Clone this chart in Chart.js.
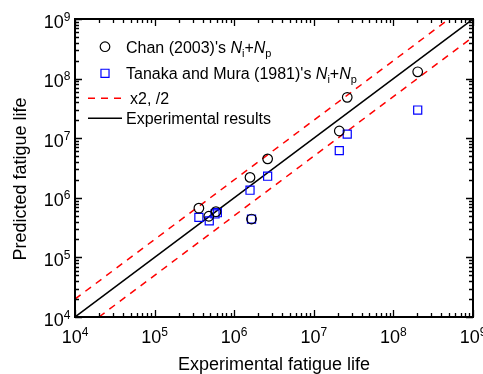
<!DOCTYPE html>
<html>
<head>
<meta charset="utf-8">
<style>
  html, body { margin: 0; padding: 0; background: #fff; }
  #wrap { width: 483px; height: 374px; }
</style>
</head>
<body>
<div id="wrap">
  <canvas id="fatigue" width="483" height="374"></canvas>
</div>

<script src="https://cdn.jsdelivr.net/npm/chart.js"></script>

<script>
  // data (cycles)
  const chanX = [3.6e5, 4.8e5, 5.9e5, 1.58e6, 1.65e6, 2.63e6, 2.09e7, 2.63e7, 2.02e8];
  const chanY = [6.7e5, 4.9e5, 5.85e5, 2.2e6, 4.4e5, 4.5e6, 1.32e7, 4.85e7, 1.3e8];
  const tanakaX = [3.6e5, 4.86e5, 5.74e5, 6.14e5, 1.58e6, 1.65e6, 2.63e6, 2.09e7, 2.63e7, 2.02e8];
  const tanakaY = [4.7e5, 4.1e5, 5.35e5, 5.62e5, 1.34e6, 4.4e5, 2.3e6, 6.2e6, 1.17e7, 2.97e7];

  // reference lines: y = x, y = 2x, y = x/2
  const expX = [1e4, 1e9];
  const expY = [1e4, 1e9];
  const upperX = [1e4, 5e8];
  const upperY = [2e4, 1e9];
  const lowerX = [2e4, 1e9];
  const lowerY = [1e4, 5e8];

  const decades = [1e4, 1e5, 1e6, 1e7, 1e8, 1e9];
  const exponents = ['4', '5', '6', '7', '8', '9'];

  const xTitle = 'Experimental fatigue life';
  const yTitle = 'Predicted fatigue life';

  // legend text, split in pieces for italic / subscript
  const chanLabel = [["Chan (2003)'s ", ''], ['N', 'it'], ['i', 'sub'], ['+', ''], ['N', 'it'], ['p', 'sub']];
  const tanakaLabel = [["Tanaka and Mura (1981)'s ", ''], ['N', 'it'], ['i', 'sub'], ['+', ''], ['N', 'it'], ['p', 'sub']];
  const boundLabel = [['x2, /2', '']];
  const expLabel = [['Experimental results', '']];

  const FONT = '"Liberation Sans", Arial, sans-serif';

  function pts(xs, ys) {
    return xs.map((x, i) => ({ x: x, y: ys[i] }));
  }

  function richText(ctx, segs, x, y) {
    segs.forEach(([t, st]) => {
      const size = st === 'sub' ? 11 : 16;
      ctx.font = (st === 'it' ? 'italic ' : '') + size + 'px ' + FONT;
      ctx.fillText(t, x, st === 'sub' ? y + 4 : y);
      x += ctx.measureText(t).width;
    });
  }

  const axesPlugin = {
    id: 'axesPlugin',
    afterDatasetsDraw(chart) {
      const ctx = chart.ctx;
      const xs = chart.scales.x, ys = chart.scales.y;
      const a = chart.chartArea;
      ctx.save();
      ctx.strokeStyle = '#000';
      ctx.fillStyle = '#000';

      // ticks pointing inward on all four sides
      const minors = [];
      decades.slice(0, -1).forEach(d => { for (let m = 2; m <= 9; m++) minors.push(m * d); });
      ctx.lineWidth = 1.3;
      ctx.beginPath();
      const tick = (v, len) => {
        const px = Math.round(xs.getPixelForValue(v)) + 0.5;
        const py = Math.round(ys.getPixelForValue(v)) + 0.5;
        ctx.moveTo(px, a.bottom); ctx.lineTo(px, a.bottom - len);
        ctx.moveTo(px, a.top); ctx.lineTo(px, a.top + len);
        ctx.moveTo(a.left, py); ctx.lineTo(a.left + len, py);
        ctx.moveTo(a.right, py); ctx.lineTo(a.right - len, py);
      };
      decades.forEach(v => tick(v, 7));
      minors.forEach(v => tick(v, 4));
      ctx.stroke();

      // frame
      ctx.lineWidth = 2;
      ctx.strokeRect(a.left, a.top, a.right - a.left, a.bottom - a.top);

      // tick labels 10^n
      decades.forEach((v, i) => {
        ctx.font = '18px ' + FONT;
        const wBase = ctx.measureText('10').width;
        ctx.font = '12px ' + FONT;
        const wSup = ctx.measureText(exponents[i]).width;
        const w = wBase + wSup;
        // x axis
        let px = xs.getPixelForValue(v) - w / 2;
        let base = 342.5;
        ctx.textAlign = 'left';
        ctx.textBaseline = 'alphabetic';
        ctx.font = '18px ' + FONT;
        ctx.fillText('10', px, base);
        ctx.font = '12px ' + FONT;
        ctx.fillText(exponents[i], px + wBase, base - 7);
        // y axis
        px = 70.5 - w;
        base = ys.getPixelForValue(v) + 8.5;
        ctx.font = '18px ' + FONT;
        ctx.fillText('10', px, base);
        ctx.font = '12px ' + FONT;
        ctx.fillText(exponents[i], px + wBase, base - 7);
      });

      // axis titles
      ctx.font = '18px ' + FONT;
      ctx.textAlign = 'center';
      ctx.fillText(xTitle, (a.left + a.right) / 2, 370);
      ctx.save();
      ctx.translate(25.5, 179);
      ctx.rotate(-Math.PI / 2);
      ctx.fillText(yTitle, 0, 0);
      ctx.restore();

      // legend
      ctx.textAlign = 'left';
      const ds = chart.data.datasets;
      const rows = [
        { y: 46.7, tx: 126, segs: chanLabel, ds: ds[0] },
        { y: 73.3, tx: 126, segs: tanakaLabel, ds: ds[1] },
        { y: 98.3, tx: 130, segs: boundLabel, ds: ds[3] },
        { y: 118.3, tx: 126, segs: expLabel, ds: ds[2] }
      ];
      rows.forEach(r => {
        const d = r.ds;
        ctx.save();
        ctx.strokeStyle = d.borderColor;
        ctx.fillStyle = 'rgba(0,0,0,0)';
        ctx.lineWidth = d.borderWidth;
        if (d.showLine) {
          ctx.setLineDash(d.borderDash || []);
          ctx.beginPath();
          ctx.moveTo(88, r.y);
          ctx.lineTo(122, r.y);
          ctx.stroke();
        } else {
          Chart.helpers.drawPoint(ctx, { pointStyle: d.pointStyle, radius: d.pointRadius, borderWidth: d.borderWidth, rotation: 0 }, 105, r.y);
        }
        ctx.restore();
        ctx.fillStyle = '#000';
        richText(ctx, r.segs, r.tx, r.y + 6);
      });

      ctx.restore();
    }
  };

  const ctx = document.getElementById('fatigue');

  new Chart(ctx, {
    type: 'scatter',
    data: {
      datasets: [
        {
          label: "Chan (2003)'s Ni+Np",
          data: pts(chanX, chanY),
          pointStyle: 'circle',
          pointRadius: 4.8,
          borderColor: '#000',
          backgroundColor: 'rgba(0,0,0,0)',
          borderWidth: 1.2
        },
        {
          label: "Tanaka and Mura (1981)'s Ni+Np",
          data: pts(tanakaX, tanakaY),
          pointStyle: 'rect',
          pointRadius: 5.7,
          borderColor: '#0000ff',
          backgroundColor: 'rgba(0,0,0,0)',
          borderWidth: 1.2
        },
        {
          label: 'Experimental results',
          data: pts(expX, expY),
          showLine: true,
          pointRadius: 0,
          borderColor: '#000',
          borderWidth: 1.5
        },
        {
          label: 'x2, /2',
          data: pts(upperX, upperY),
          showLine: true,
          pointRadius: 0,
          borderColor: '#ff0000',
          borderWidth: 1.5,
          borderDash: [7, 6]
        },
        {
          label: 'x2, /2 (lower)',
          data: pts(lowerX, lowerY),
          showLine: true,
          pointRadius: 0,
          borderColor: '#ff0000',
          borderWidth: 1.5,
          borderDash: [7, 6]
        }
      ]
    },
    options: {
      responsive: false,
      animation: false,
      layout: { padding: { left: 75, top: 19, right: 10, bottom: 57 } },
      plugins: {
        legend: { display: false },
        tooltip: { enabled: false }
      },
      scales: {
        x: { type: 'logarithmic', min: 1e4, max: 1e9, display: false },
        y: { type: 'logarithmic', min: 1e4, max: 1e9, display: false }
      }
    },
    plugins: [axesPlugin]
  });
</script>
</body>
</html>
